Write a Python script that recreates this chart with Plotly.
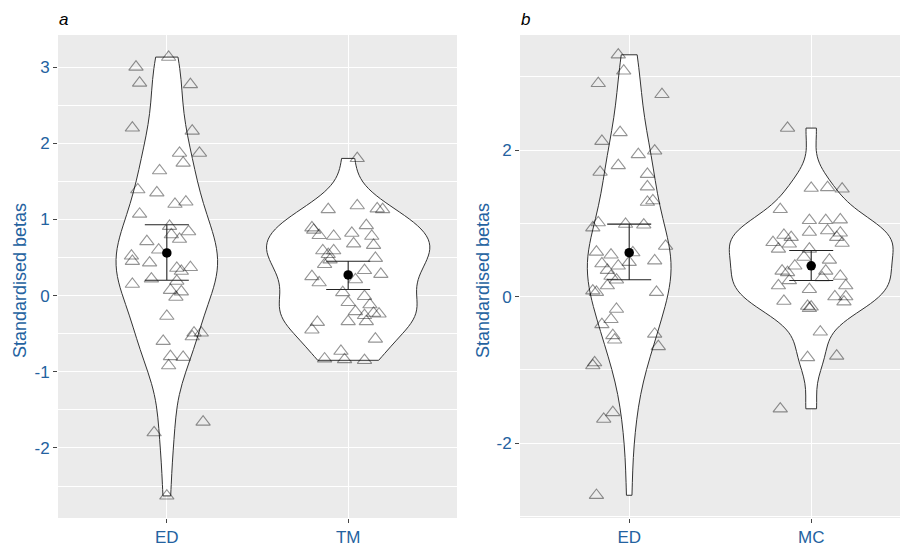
import numpy as np
import plotly.graph_objects as go

# ---------------- data ----------------
cats_a = ["ED", "TM"]
cats_b = ["ED", "MC"]
yticks_a = [-2, -1, 0, 1, 2, 3]
yticks_b = [-2, 0, 2]

ed_a_vals = [3.13, 3.00, 2.79, 2.77, 2.20, 2.16, 1.87, 1.87, 1.74, 1.64, 1.39, 1.35, 1.20, 1.23,
             1.07, 0.91, 0.84, 0.80, 0.74, 0.71, 0.60, 0.52, 0.45, 0.43, 0.36, 0.32, 0.37, 0.15,
             0.22, 0.19, 0.07, 0.05, -0.02, -0.27, -0.49, -0.49, -0.54, -0.60, -0.80, -0.81,
             -0.92, -1.66, -1.80, -2.63]
ed_a_jit = [0.01, -0.17, -0.15, 0.13, -0.19, 0.14, 0.07, 0.18, 0.09, -0.04, -0.16, -0.055, 0.045, 0.105,
            -0.15, 0.015, 0.12, 0.025, 0.07, -0.11, -0.045, -0.195, -0.19, -0.095, 0.055, 0.08, 0.13, -0.19,
            -0.085, 0.055, 0.02, 0.08, 0.05, 0.0, 0.15, 0.19, 0.14, -0.02, 0.02, 0.09,
            0.01, 0.20, -0.07, 0.0]

tm_a_vals = [1.80, 1.13, 1.18, 1.14, 1.13, 0.89, 0.86, 0.79, 0.78, 0.82, 0.92, 0.78, 0.68, 0.66,
             0.59, 0.59, 0.54, 0.41, 0.47, 0.49, 0.33, 0.28, 0.25, 0.17, 0.21, 0.04, -0.01, -0.09,
             -0.12, -0.21, -0.23, -0.24, -0.26, -0.34, -0.34, -0.35, -0.45, -0.57, -0.73, -0.83,
             -0.84, -0.85]
tm_a_jit = [0.05, -0.11, 0.05, 0.16, 0.19, -0.20, -0.19, -0.16, -0.08, 0.02, 0.10, 0.13, 0.03, 0.14,
            -0.14, -0.08, -0.11, -0.13, -0.10, 0.15, 0.09, 0.18, -0.20, -0.16, 0.04, -0.03, 0.09, 0.0,
            0.12, 0.04, 0.14, 0.17, 0.09, 0.0, 0.10, -0.17, -0.20, 0.15, -0.04, -0.13,
            -0.02, 0.09]

ed_b_vals = [3.30, 3.08, 2.91, 2.76, 2.24, 2.12, 1.94, 1.99, 1.79, 1.70, 1.67, 1.50, 1.29, 1.31,
             1.01, 0.94, 0.99, 0.98, 0.69, 0.61, 0.57, 0.60, 0.49, 0.45, 0.42, 0.47, 0.36, 0.28,
             0.23, 0.15, 0.08, 0.06, 0.06, -0.17, -0.31, -0.38, -0.53, -0.59, -0.51, -0.68,
             -0.90, -0.94, -1.58, -1.67, -2.71]
ed_b_jit = [-0.06, -0.03, -0.17, 0.18, -0.05, -0.15, 0.05, 0.14, -0.06, -0.16, 0.10, 0.10, 0.10, 0.13,
            -0.17, -0.20, -0.02, 0.08, 0.20, -0.18, -0.10, 0.02, 0.14, -0.15, -0.06, 0.0, -0.12, -0.10,
            -0.07, -0.12, -0.20, -0.18, 0.15, -0.07, -0.10, -0.15, -0.09, -0.08, 0.14, 0.16,
            -0.19, -0.20, -0.09, -0.14, -0.18]

mc_b_vals = [2.30, 1.48, 1.49, 1.47, 1.19, 1.04, 1.04, 1.05, 0.88, 0.90, 0.87, 0.81, 0.84, 0.81,
             0.74, 0.72, 0.73, 0.65, 0.65, 0.54, 0.50, 0.42, 0.35, 0.33, 0.35, 0.22, 0.26, 0.28,
             0.15, 0.15, 0.10, 0.00, 0.00, -0.07, -0.06, -0.13, -0.14, -0.16, -0.48, -0.83,
             -0.81, -1.53]
mc_b_jit = [-0.13, 0.0, 0.09, 0.17, -0.17, -0.01, 0.08, 0.16, -0.01, 0.09, 0.16, 0.14, -0.15, -0.11,
            -0.21, -0.12, 0.17, -0.18, -0.01, -0.04, 0.10, -0.09, -0.16, -0.13, 0.08, -0.12, 0.06, 0.16,
            -0.18, 0.19, -0.01, 0.13, 0.19, 0.18, -0.15, -0.02, 0.0, -0.01, 0.05, -0.02,
            0.14, -0.17]

# summary: mean with interval
mean_a = [0.56, 0.27]
low_a = [0.20, 0.08]
high_a = [0.93, 0.45]
mean_b = [0.60, 0.42]
low_b = [0.23, 0.22]
high_b = [0.99, 0.63]

# ---------------- style ----------------
BG = "#EBEBEB"
TXT = "#2462A0"
FONT = "Liberation Sans, Arial, sans-serif"
violin_w_a = [0.56, 0.9]
violin_w_b = [0.46, 0.9]


def bw_nrd0(v):
    v = np.asarray(v, float)
    sd = v.std(ddof=1)
    q75, q25 = np.percentile(v, [75, 25])
    lo = min(sd, (q75 - q25) / 1.34)
    return float(0.9 * lo * len(v) ** (-0.2))


fig = go.Figure()


def add_panel(xa, ya, vals_list, jit_list, widths, means, lows, highs):
    for i, vals in enumerate(vals_list):
        pos = i + 1
        fig.add_trace(go.Violin(
            x=[pos] * len(vals), y=vals, xaxis=xa, yaxis=ya,
            width=widths[i], scalegroup=f"{xa}{i}", scalemode="width",
            spanmode="hard", bandwidth=bw_nrd0(vals),
            fillcolor="white", line=dict(color="#333333", width=1),
            points=False, box_visible=False, meanline_visible=False,
            showlegend=False, hoverinfo="skip", orientation="v"))
    for i, (vals, jit) in enumerate(zip(vals_list, jit_list)):
        pos = i + 1
        fig.add_trace(go.Scatter(
            x=[pos + j for j in jit], y=vals, xaxis=xa, yaxis=ya, mode="markers",
            marker=dict(symbol="triangle-up-open", size=12.5,
                        color="rgba(0,0,0,0.42)", line=dict(width=1.1)),
            showlegend=False, hoverinfo="skip"))
    fig.add_trace(go.Scatter(
        x=[1, 2], y=means, xaxis=xa, yaxis=ya, mode="markers",
        marker=dict(symbol="circle", size=9.5, color="black"),
        error_y=dict(type="data", symmetric=False,
                     array=[h - m for h, m in zip(highs, means)],
                     arrayminus=[m - l for m, l in zip(means, lows)],
                     width=22, thickness=1.1, color="#222222"),
        showlegend=False, hoverinfo="skip"))


add_panel("x", "y", [ed_a_vals, tm_a_vals], [ed_a_jit, tm_a_jit], violin_w_a, mean_a, low_a, high_a)
add_panel("x2", "y2", [ed_b_vals, mc_b_vals], [ed_b_jit, mc_b_jit], violin_w_b, mean_b, low_b, high_b)

# page body has an 8px margin, so the figure is 8px smaller and positions shift by 8
OFF = 8
W, H = 908 - OFF, 546 - OFF
top, bottom = 35 - OFF, 518 - OFF
ydom = [(H - bottom) / H, (H - top) / H]

axis_common = dict(showline=False, zeroline=False, ticks="outside", ticklen=4,
                   tickcolor="#444444", tickwidth=1, gridcolor="white", gridwidth=1.2,
                   tickfont=dict(family=FONT, size=17, color=TXT), fixedrange=True)

fig.update_layout(
    width=W, height=H,
    margin=dict(l=0, r=0, t=0, b=0),
    paper_bgcolor="white", plot_bgcolor=BG,
    font=dict(family=FONT),
    xaxis=dict(domain=[(58 - OFF) / W, (457 - OFF) / W], range=[0.4, 2.6], tickvals=[1, 2],
               ticktext=cats_a, anchor="y", **axis_common),
    yaxis=dict(domain=ydom, range=[-2.92, 3.42], tickvals=yticks_a,
               ticktext=[str(t) for t in yticks_a], anchor="x",
               minor=dict(dtick=0.5, tick0=0, showgrid=True, gridcolor="white", gridwidth=0.6,
                          ticks=""),
               **axis_common),
    xaxis2=dict(domain=[(520 - OFF) / W, 1.0], range=[0.4, 0.4 + 388 / 182], tickvals=[1, 2],
                ticktext=cats_b, anchor="y2", **axis_common),
    yaxis2=dict(domain=ydom, range=[-3.02, 3.57], tickvals=yticks_b,
                ticktext=[str(t) for t in yticks_b], anchor="x2",
                minor=dict(dtick=1, tick0=0, showgrid=True, gridcolor="white", gridwidth=0.6,
                           ticks=""),
                **axis_common),
    annotations=[
        dict(text="<i>a</i>", x=(57 - OFF) / W, y=1 - (19 - OFF) / H, xref="paper", yref="paper",
             xanchor="left", yanchor="middle", showarrow=False,
             font=dict(family=FONT, size=17, color="black")),
        dict(text="<i>b</i>", x=(519 - OFF) / W, y=1 - (19 - OFF) / H, xref="paper", yref="paper",
             xanchor="left", yanchor="middle", showarrow=False,
             font=dict(family=FONT, size=17, color="black")),
        dict(text="Standardised betas", x=(20 - OFF) / W, y=1 - (281 - OFF) / H, xref="paper",
             yref="paper", xanchor="center", yanchor="middle", textangle=-90, showarrow=False,
             font=dict(family=FONT, size=18, color=TXT)),
        dict(text="Standardised betas", x=(483 - OFF) / W, y=1 - (281 - OFF) / H, xref="paper",
             yref="paper", xanchor="center", yanchor="middle", textangle=-90, showarrow=False,
             font=dict(family=FONT, size=18, color=TXT)),
    ],
)

fig.write_html("out.html")
